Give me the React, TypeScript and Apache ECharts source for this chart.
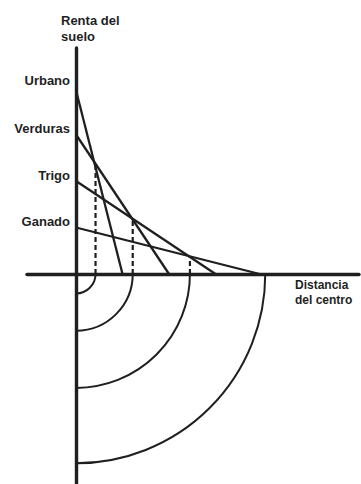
import React, { useEffect, useRef } from "react";
import * as echarts from "echarts";

// Bid-rent lines (von Thünen): rent at the centre and distance where rent falls to zero
const uses = ["Urbano", "Verduras", "Trigo", "Ganado"];
const rentAtCentre = [3.95, 3, 2, 1];
const zeroRentDistance = [1, 2, 3, 3.95];

// Zone limits on the ground (radii of the concentric rings)
const ringRadii = [0.42, 1.22, 2.45, 4.07];
// Height of the dashed drop lines at the first three ring limits
const dropHeights = [2.35, 1.18, 0.38];

const INK = "#1f1f1f";
const FONT = '"Liberation Sans", Arial, Helvetica, sans-serif';

// Layout: pixels per unit on both axes, and where the origin sits
const PX = 46.5;
const W = 361;
const H = 484;
const ORIGIN_X = 76;
const ORIGIN_Y = 274;
const GRID_LEFT = 27;
const GRID_RIGHT = 2;
const GRID_TOP = 48;

const labelOffsets = [-10, -6.5, -6, -6];

export default function App() {
  const ref = useRef<HTMLDivElement>(null);

  useEffect(() => {
    if (!ref.current) return;
    const chart = echarts.init(ref.current, undefined, { renderer: "svg" });

    const xMin = -(ORIGIN_X - GRID_LEFT) / PX;
    const xMax = (W - GRID_RIGHT - ORIGIN_X) / PX;
    const yMax = (ORIGIN_Y - GRID_TOP) / PX;
    const yMin = -(H - ORIGIN_Y) / PX;

    const axisCommon = {
      type: "value" as const,
      axisLine: { show: true, onZero: true, lineStyle: { color: INK, width: 3.4 } },
      axisTick: { show: false },
      axisLabel: { show: false },
      splitLine: { show: false },
      z: 5,
    };

    const rentLines = uses.map((name, i) => ({
      name,
      type: "line",
      data: [
        [0, rentAtCentre[i]],
        [zeroRentDistance[i], 0],
      ],
      symbol: "none",
      lineStyle: { color: INK, width: 2.3 },
      z: 3,
    }));

    const dropLines = dropHeights.map((h, i) => ({
      type: "line",
      data: [
        [ringRadii[i], 0],
        [ringRadii[i], h],
      ],
      symbol: "none",
      lineStyle: { color: INK, width: 2.2, type: [5, 3] },
      z: 2,
    }));

    const rings = {
      type: "custom",
      data: ringRadii.map((r) => [0, 0, r]),
      renderItem: (_params: any, api: any) => {
        const c = api.coord([0, 0]);
        const r = api.size([api.value(2), 0])[0];
        return {
          type: "arc",
          shape: { cx: c[0], cy: c[1], r, startAngle: 0, endAngle: Math.PI / 2, clockwise: true },
          style: { stroke: INK, lineWidth: 2, fill: "none" },
        };
      },
      z: 2,
    };

    // Land-use names written beside the start of each bid-rent line
    const useLabels = {
      type: "scatter",
      symbol: "circle",
      symbolSize: 1,
      itemStyle: { color: INK, opacity: 1 },
      data: uses.map((name, i) => ({
        name,
        value: [0, rentAtCentre[i]],
        label: { offset: [0, labelOffsets[i]] },
      })),
      label: {
        show: true,
        position: "left",
        distance: 5.5,
        formatter: (p: any) => p.name,
        color: INK,
        opacity: 1,
        textBorderWidth: 0,
        fontFamily: FONT,
        fontWeight: "bold",
        fontSize: 13,
      },
      emphasis: { disabled: true },
      z: 4,
    };

    chart.setOption({
      animation: false,
      backgroundColor: "#ffffff",
      grid: { left: GRID_LEFT, right: GRID_RIGHT, top: GRID_TOP, bottom: 0, containLabel: false },
      xAxis: { ...axisCommon, min: xMin, max: xMax },
      yAxis: { ...axisCommon, min: yMin, max: yMax },
      series: [...rentLines, ...dropLines, rings, useLabels],
      graphic: [
        {
          type: "text",
          left: 61,
          top: 12.5,
          style: {
            text: "Renta del\nsuelo",
            fill: INK,
            font: `bold 13px ${FONT}`,
            lineHeight: 16,
          },
        },
        {
          type: "text",
          left: 295,
          top: 277,
          style: {
            text: "Distancia\ndel centro",
            fill: INK,
            font: `bold 12px ${FONT}`,
            lineHeight: 15,
          },
        },
      ],
    });

    return () => chart.dispose();
  }, []);

  return (
    <div
      ref={ref}
      style={{ position: "absolute", left: 0, top: 0, width: W, height: H, background: "#fff" }}
    />
  );
}
